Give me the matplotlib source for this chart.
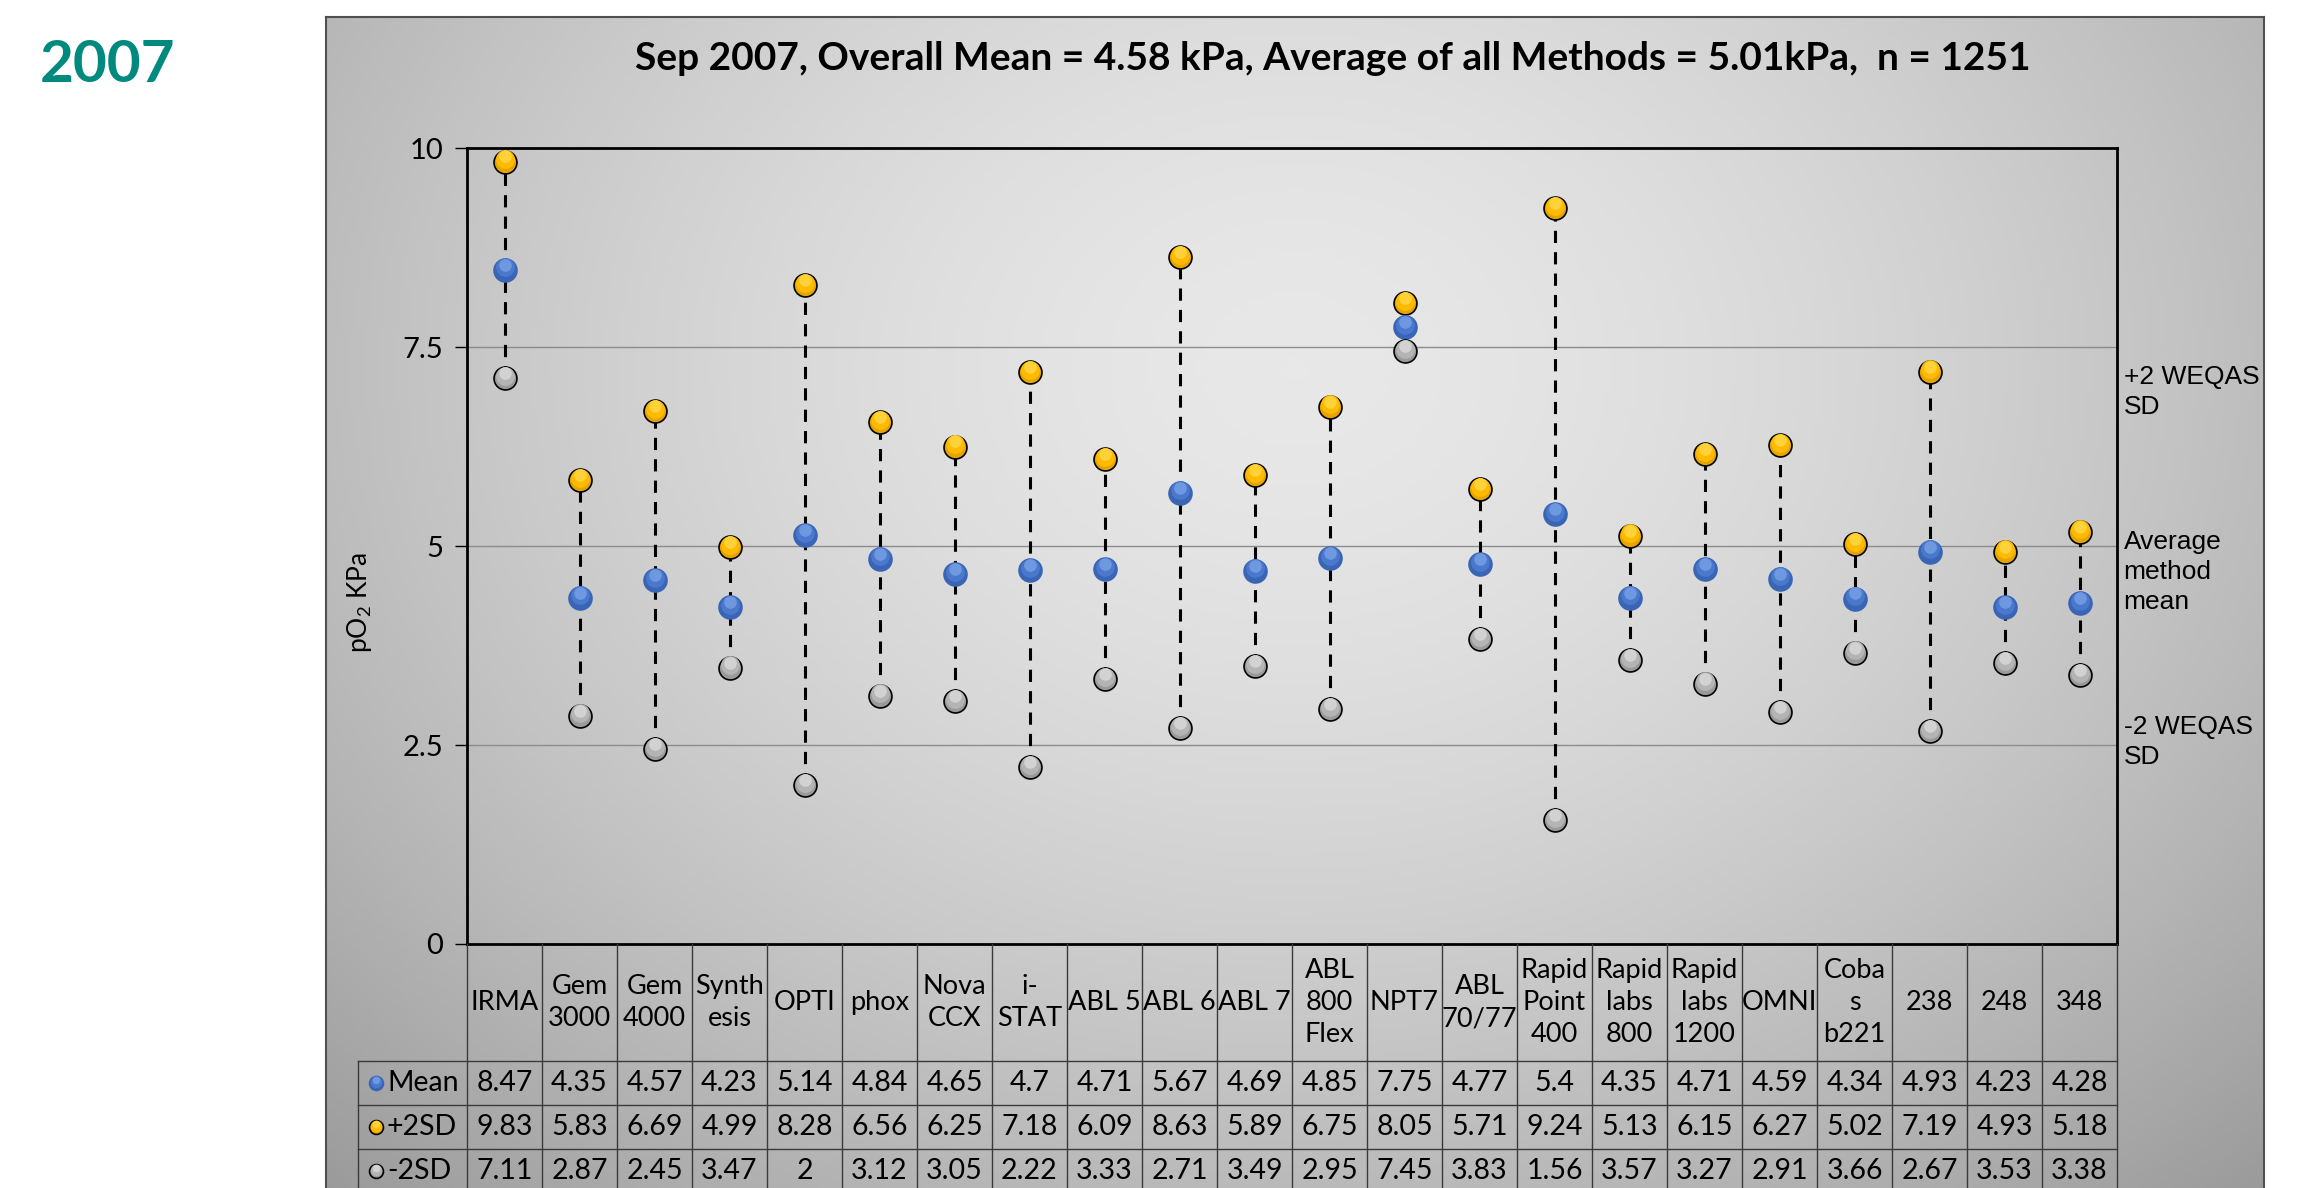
import numpy as np
import matplotlib.pyplot as plt
from matplotlib.transforms import blended_transform_factory, ScaledTranslation

plt.rcParams['font.family'] = ['Lato', 'DejaVu Sans']
plt.rcParams['mathtext.fontset'] = 'custom'
plt.rcParams['mathtext.rm'] = 'Lato'

methods = ["IRMA", "Gem\n3000", "Gem\n4000", "Synth\nesis", "OPTI", "phox", "Nova\nCCX",
           "i-\nSTAT", "ABL 5", "ABL 6", "ABL 7", "ABL\n800\nFlex", "NPT7", "ABL\n70/77",
           "Rapid\nPoint\n400", "Rapid\nlabs\n800", "Rapid\nlabs\n1200", "OMNI", "Coba\ns\nb221",
           "238", "248", "348"]
mean = [8.47, 4.35, 4.57, 4.23, 5.14, 4.84, 4.65, 4.7, 4.71, 5.67, 4.69,
        4.85, 7.75, 4.77, 5.4, 4.35, 4.71, 4.59, 4.34, 4.93, 4.23, 4.28]
plus2sd = [9.83, 5.83, 6.69, 4.99, 8.28, 6.56, 6.25, 7.18, 6.09, 8.63, 5.89,
           6.75, 8.05, 5.71, 9.24, 5.13, 6.15, 6.27, 5.02, 7.19, 4.93, 5.18]
minus2sd = [7.11, 2.87, 2.45, 3.47, 2, 3.12, 3.05, 2.22, 3.33, 2.71, 3.49,
            2.95, 7.45, 3.83, 1.56, 3.57, 3.27, 2.91, 3.66, 2.67, 3.53, 3.38]
row_names = ["Mean", "+2SD", "-2SD"]
yticks = [0, 2.5, 5, 7.5, 10]
ytick_labels = ["0", "2.5", "5", "7.5", "10"]
title = "Sep 2007, Overall Mean = 4.58 kPa, Average of all Methods = 5.01kPa,  n = 1251"

W, H = 2302, 1188
TAB_FS = 19.5


def box(l, t, r, b):
    # pixel box -> figure fraction rect
    return [l / W, 1 - b / H, (r - l) / W, (b - t) / H]


def shiny(axis, xs, ys, ms, dark, mid, light, edge, ec=True):
    # fake the excel gradient fill with stacked markers
    axis.plot(xs, ys, 'o', ms=ms, mfc=dark, mec=edge if ec else dark, mew=1.2, zorder=3,
              clip_on=False)
    for frac, col, up in [(0.82, mid, 0.10), (0.55, light, 0.22)]:
        off = axis.transData + ScaledTranslation(0, ms * up / 72, fig.dpi_scale_trans)
        axis.plot(xs, ys, 'o', ms=ms * frac, mfc=col, mec='none', zorder=4,
                  transform=off, clip_on=False)


fig = plt.figure(figsize=(W / 100, H / 100), dpi=100)
fig.patch.set_facecolor('white')

# gray gradient chart background
bg = fig.add_axes(box(326, 17, 2264, 1188), zorder=-5)
gx, gy = np.meshgrid(np.linspace(0, 1, 400), np.linspace(0, 1, 300))
r = np.sqrt(((gx - 0.5) / 0.75) ** 2 + ((gy - 0.3) / 1.0) ** 2)
shade = np.clip(0.91 - 0.32 * r ** 1.6, 0, 1)
bg.imshow(np.dstack([shade] * 3), aspect='auto', extent=(0, 1, 1, 0))
bg.set_xlim(0, 1)
bg.set_ylim(1, 0)
bg.set_xticks([])
bg.set_yticks([])
for s in ['top', 'left', 'right']:
    bg.spines[s].set_color('#505050')
    bg.spines[s].set_linewidth(1.5)
bg.spines['bottom'].set_visible(False)

fig.text(107 / W, 1 - 65 / H, "2007", color='#00897F', fontsize=42,
         fontweight='bold', ha='center', va='center')
fig.text(1333 / W, 1 - 58 / H, title, fontsize=28, fontweight='bold',
         ha='center', va='center')

# ---- main plot ----
ax = fig.add_axes(box(467, 148, 2117, 944))
ax.set_facecolor('none')
x = np.arange(len(methods))
ax.set_xlim(-0.5, len(methods) - 0.5)
ax.set_ylim(0, 10)
ax.set_xticks([])
ax.set_yticks(yticks)
ax.set_yticklabels(ytick_labels)
ax.tick_params(axis='y', direction='out', length=9, width=1, labelsize=21, pad=8)
for s in ax.spines.values():
    s.set_linewidth(2)
    s.set_color('black')
for yv in yticks[1:-1]:
    ax.axhline(yv, color='#8c8c8c', lw=1, zorder=1)

ax.vlines(x, minus2sd, plus2sd, colors='black', linestyles=(0, (4, 3)),
          lw=2.2, zorder=2)
MS = 16.5
shiny(ax, x, plus2sd, MS, '#E6A400', '#FDBA00', '#FFD23A', 'black')
shiny(ax, x, mean, MS, '#3A64B4', '#4A78CC', '#6E98E0', '#3A64B4', ec=False)
shiny(ax, x, minus2sd, MS, '#9A9A9A', '#B4B4B4', '#D2D2D2', 'black')

fig.text(360 / W, 1 - 602 / H, "pO$_2$ KPa", rotation=90, fontsize=19,
         ha='center', va='center')

trans = blended_transform_factory(ax.transAxes, ax.transData)
side = [(7.28, "+2 WEQAS\nSD"), (5.2, "Average\nmethod\nmean"), (2.88, "-2 WEQAS\nSD")]
for yv, txt in side:
    ax.text(1.004, yv, txt, transform=trans, ha='left', va='top', fontsize=19,
            family='Liberation Sans', linespacing=1.32)

# ---- data table under the plot ----
col_w = 1650 / len(methods)
leg_w = 109 / col_w
x0 = -0.5 - leg_w
tab = fig.add_axes(box(358, 944, 2117, 1188))
tab.set_xlim(x0, len(methods) - 0.5)
tab.set_ylim(1188, 944)
tab.axis('off')
edges = [944, 1061, 1105, 1149, 1193]
lc = '#3a3a3a'
for k in range(len(methods) + 1):
    tab.plot([k - 0.5, k - 0.5], [edges[0], edges[-1]], color=lc, lw=1, clip_on=False)
tab.plot([x0, x0], [edges[1], edges[-1]], color=lc, lw=1, clip_on=False)
for e in edges[1:4]:
    tab.plot([x0, len(methods) - 0.5], [e, e], color=lc, lw=1, clip_on=False)

for i, m in enumerate(methods):
    tab.text(i, (edges[0] + edges[1]) / 2, m, ha='center', va='center',
             fontsize=TAB_FS, linespacing=1.36)

rows = [mean, plus2sd, minus2sd]
leg_style = [('#3A64B4', '#4A78CC', '#6E98E0', '#3A64B4'),
             ('#E6A400', '#FDBA00', '#FFD23A', 'black'),
             ('#9A9A9A', '#B4B4B4', '#D2D2D2', 'black')]
for j, (name, vals) in enumerate(zip(row_names, rows)):
    yc = (edges[j + 1] + edges[j + 2]) / 2
    for i, v in enumerate(vals):
        tab.text(i, yc, f"{v:g}", ha='center', va='center', fontsize=TAB_FS + 1,
                 clip_on=False)
    shiny(tab, [x0 + 18 / col_w], [yc], 10, *leg_style[j], ec=(j > 0))
    tab.text(x0 + 29 / col_w, yc, name, ha='left', va='center', fontsize=20.5,
             clip_on=False)

fig.savefig('out.png', dpi=100)
